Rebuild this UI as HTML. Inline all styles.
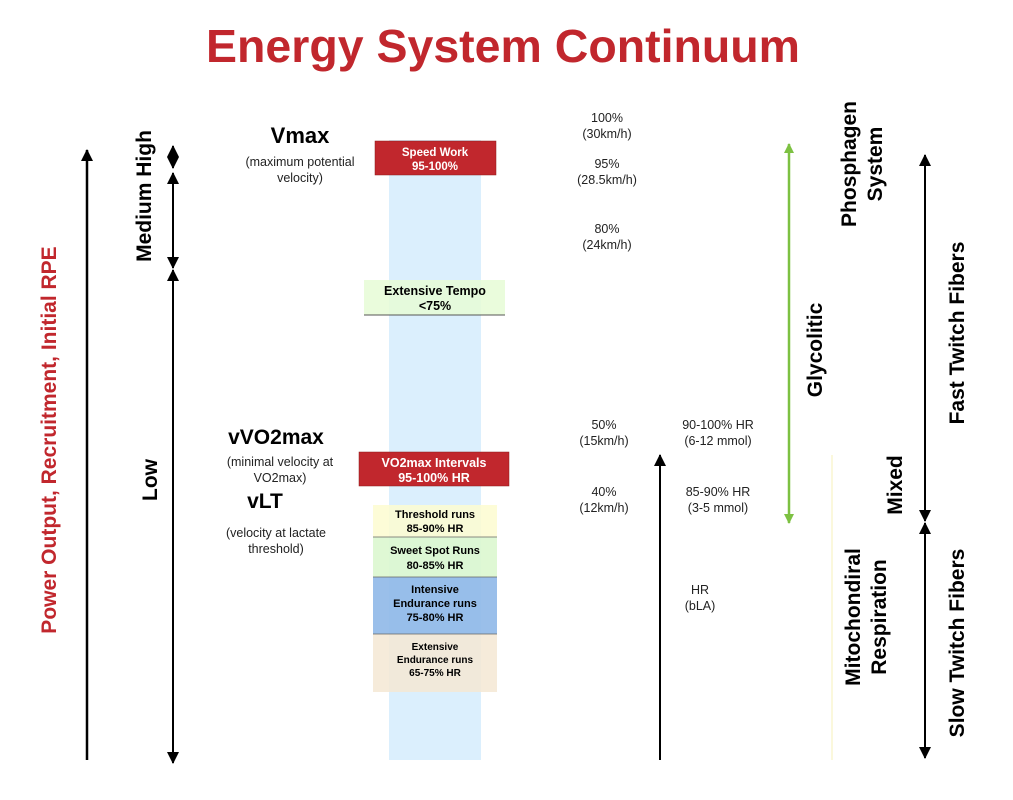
<!DOCTYPE html>
<html><head><meta charset="utf-8"><style>
body{margin:0;background:#fff;}
svg{display:block;font-family:"Liberation Sans",sans-serif;}
</style></head><body>
<svg width="1013" height="800" viewBox="0 0 1013 800">
<defs>
<marker id="ahg" markerWidth="10" markerHeight="10" refX="9" refY="5" orient="auto-start-reverse" markerUnits="userSpaceOnUse" viewBox="0 0 10 10"><path d="M0,0 L10,5 L0,10 Z" fill="#7dc142"/></marker>
<marker id="ab" markerWidth="12" markerHeight="12" refX="11" refY="6" orient="auto-start-reverse" markerUnits="userSpaceOnUse" viewBox="0 0 12 12"><path d="M0,0 L12,6 L0,12 Z" fill="#000"/></marker>
</defs>
<text x="503" y="62" text-anchor="middle" font-size="46" font-weight="bold" fill="#c1272d" textLength="594" lengthAdjust="spacingAndGlyphs">Energy System Continuum</text>

<!-- left axis -->
<line x1="87" y1="760" x2="87" y2="150" stroke="#000" stroke-width="2.5" marker-end="url(#ab)"/>
<text transform="translate(56,440) rotate(-90)" text-anchor="middle" font-size="21" font-weight="bold" fill="#c1272d">Power Output, Recruitment, Initial RPE</text>

<g stroke="#000" stroke-width="2">
<line x1="173" y1="146" x2="173" y2="168" marker-start="url(#ab)" marker-end="url(#ab)"/>
<line x1="173" y1="173" x2="173" y2="268" marker-start="url(#ab)" marker-end="url(#ab)"/>
<line x1="173" y1="270" x2="173" y2="763" marker-start="url(#ab)" marker-end="url(#ab)"/>
</g>
<text transform="translate(151,196) rotate(-90)" text-anchor="middle" font-size="21" font-weight="bold">Medium High</text>
<text transform="translate(157,480) rotate(-90)" text-anchor="middle" font-size="21" font-weight="bold">Low</text>

<!-- band -->
<rect x="389" y="140" width="92" height="620" fill="#dbeffd"/>

<rect x="375" y="141" width="121" height="34" fill="#c1272d" stroke="#8a1a1a" stroke-width="0.5"/>
<text x="435" y="156" text-anchor="middle" font-size="11.5" font-weight="bold" fill="#fff">Speed Work</text>
<text x="435" y="170" text-anchor="middle" font-size="11.5" font-weight="bold" fill="#fff">95-100%</text>

<rect x="364" y="280" width="141" height="35" fill="#e6fbd6" fill-opacity="0.85"/>
<line x1="364" y1="315" x2="505" y2="315" stroke="#555" stroke-width="1"/>
<text x="435" y="295" text-anchor="middle" font-size="12.5" font-weight="bold">Extensive Tempo</text>
<text x="435" y="310" text-anchor="middle" font-size="12.5" font-weight="bold">&lt;75%</text>

<rect x="359" y="452" width="150" height="34" fill="#c1272d" stroke="#8a1a1a" stroke-width="0.5"/>
<text x="434" y="467" text-anchor="middle" font-size="12.5" font-weight="bold" fill="#fff">VO2max Intervals</text>
<text x="434" y="482" text-anchor="middle" font-size="12.5" font-weight="bold" fill="#fff">95-100% HR</text>

<rect x="373" y="505" width="124" height="32" fill="#fdfbd0" fill-opacity="0.85"/>
<rect x="373" y="537" width="124" height="40" fill="#dcf7cf" fill-opacity="0.9"/>
<rect x="373" y="577" width="124" height="57" fill="#8fb8e8" fill-opacity="0.9"/>
<rect x="373" y="634" width="124" height="58" fill="#f5e8d3" fill-opacity="0.85"/>
<g stroke="#666" stroke-width="0.7"><line x1="373" y1="537" x2="497" y2="537"/><line x1="373" y1="577" x2="497" y2="577"/><line x1="373" y1="634" x2="497" y2="634"/></g>
<g font-size="11" font-weight="bold" text-anchor="middle">
<text x="435" y="518">Threshold runs</text><text x="435" y="532">85-90% HR</text>
<text x="435" y="554">Sweet Spot Runs</text><text x="435" y="569">80-85% HR</text>
<text x="435" y="593">Intensive</text><text x="435" y="607">Endurance runs</text><text x="435" y="621">75-80% HR</text>
<text x="435" y="650" font-size="10">Extensive</text><text x="435" y="663" font-size="10">Endurance runs</text><text x="435" y="676" font-size="10">65-75% HR</text>
</g>

<!-- left labels -->
<text x="300" y="143" text-anchor="middle" font-size="22" font-weight="bold">Vmax</text>
<g font-size="12.5" text-anchor="middle" fill="#222">
<text x="300" y="166">(maximum potential</text><text x="300" y="182">velocity)</text>
<text x="280" y="466">(minimal velocity at</text><text x="280" y="482">VO2max)</text>
<text x="276" y="537">(velocity at lactate</text><text x="276" y="553">threshold)</text>
</g>
<text x="276" y="444" text-anchor="middle" font-size="21" font-weight="bold">vVO2max</text>
<text x="265" y="508" text-anchor="middle" font-size="21" font-weight="bold">vLT</text>

<!-- percentages -->
<g font-size="12.5" text-anchor="middle" fill="#222">
<text x="607" y="122">100%</text><text x="607" y="138">(30km/h)</text>
<text x="607" y="168">95%</text><text x="607" y="184">(28.5km/h)</text>
<text x="607" y="233">80%</text><text x="607" y="249">(24km/h)</text>
<text x="604" y="429">50%</text><text x="604" y="445">(15km/h)</text>
<text x="604" y="496">40%</text><text x="604" y="512">(12km/h)</text>
<text x="718" y="429">90-100% HR</text><text x="718" y="445">(6-12 mmol)</text>
<text x="718" y="496">85-90% HR</text><text x="718" y="512">(3-5 mmol)</text>
<text x="700" y="594">HR</text><text x="700" y="610">(bLA)</text>
</g>
<line x1="660" y1="760" x2="660" y2="455" stroke="#000" stroke-width="2" marker-end="url(#ab)"/>

<!-- right -->
<line x1="789" y1="144" x2="789" y2="523" stroke="#7dc142" stroke-width="2.5" marker-start="url(#ahg)" marker-end="url(#ahg)"/>
<line x1="832" y1="455" x2="832" y2="760" stroke="#fbf8dc" stroke-width="2"/>
<g font-size="21" font-weight="bold" text-anchor="middle">
<text transform="translate(822,350) rotate(-90)">Glycolitic</text>
<text transform="translate(856,164) rotate(-90)">Phosphagen</text>
<text transform="translate(882,164) rotate(-90)">System</text>
<text transform="translate(902,485) rotate(-90)">Mixed</text>
<text transform="translate(860,617) rotate(-90)">Mitochondiral</text>
<text transform="translate(886,617) rotate(-90)">Respiration</text>
<text transform="translate(964,333) rotate(-90)">Fast Twitch Fibers</text>
<text transform="translate(964,643) rotate(-90)">Slow Twitch Fibers</text>
</g>
<g stroke="#000" stroke-width="2">
<line x1="925" y1="155" x2="925" y2="521" marker-start="url(#ab)" marker-end="url(#ab)"/>
<line x1="925" y1="523" x2="925" y2="758" marker-start="url(#ab)" marker-end="url(#ab)"/>
</g>
</svg>
</body></html>
